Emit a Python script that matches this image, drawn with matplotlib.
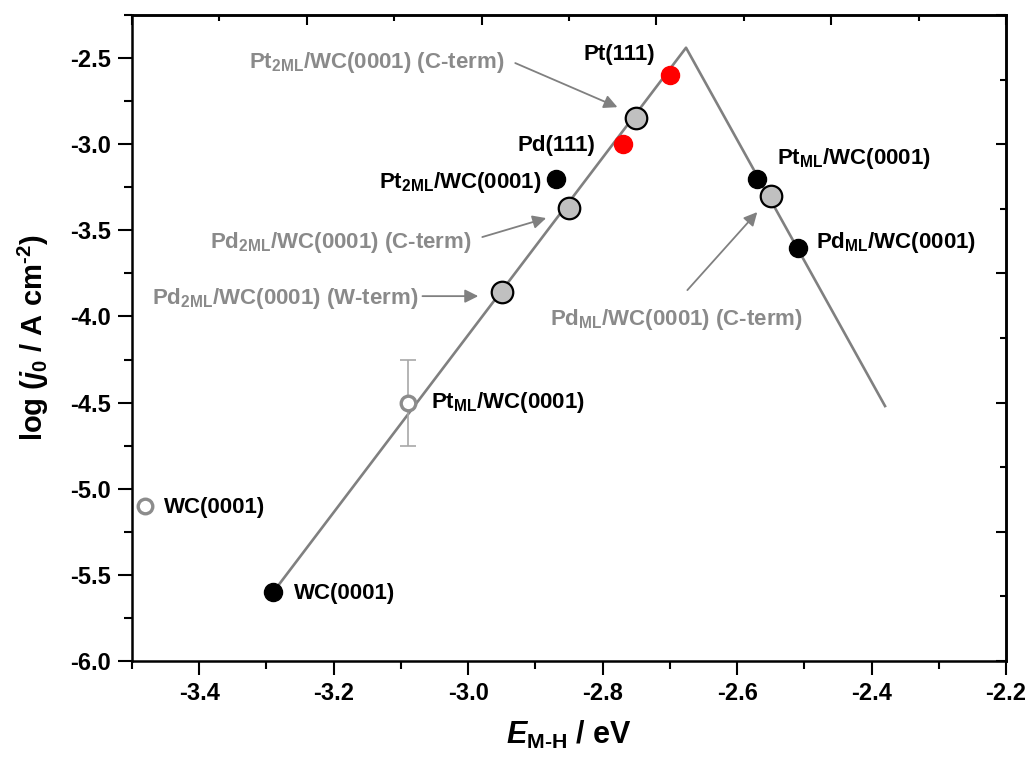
import matplotlib
matplotlib.use("Agg")
import matplotlib.pyplot as plt
import numpy as np
from matplotlib.ticker import MultipleLocator, NullFormatter, FixedLocator

plt.rcParams["font.family"] = ["Liberation Sans", "DejaVu Sans"]
plt.rcParams["font.weight"] = "bold"
plt.rcParams["axes.labelweight"] = "bold"
plt.rcParams["mathtext.fontset"] = "custom"
plt.rcParams["mathtext.rm"] = "Liberation Sans:bold"
plt.rcParams["mathtext.it"] = "Liberation Sans:italic:bold"
plt.rcParams["mathtext.bf"] = "Liberation Sans:bold"
plt.rcParams["mathtext.default"] = "rm"

# volcano fit: rising branch, apex, falling branch
volcano_x = [-3.29, -2.676, -2.38]
volcano_y = [-5.6, -2.44, -4.52]

# pure metal references
ref_x = [-2.70, -2.77]
ref_y = [-2.6, -3.0]
ref_names = ["Pt(111)", "Pd(111)"]

# calculated overlayers (C- and W-terminated)
calc_x = [-2.75, -2.85, -2.95, -2.55]
calc_y = [-2.85, -3.37, -3.86, -3.30]
calc_names = [r"Pt$_{2ML}$/WC(0001) (C-term)",
              r"Pd$_{2ML}$/WC(0001) (C-term)",
              r"Pd$_{2ML}$/WC(0001) (W-term)",
              r"Pd$_{ML}$/WC(0001) (C-term)"]

# overlayers / substrate on the volcano
bulk_x = [-2.87, -2.57, -2.51, -3.29]
bulk_y = [-3.2, -3.2, -3.6, -5.6]
bulk_names = [r"Pt$_{2ML}$/WC(0001)", r"Pt$_{ML}$/WC(0001)",
              r"Pd$_{ML}$/WC(0001)", "WC(0001)"]

# measured points (open symbols)
meas_x = [-3.09, -3.48]
meas_y = [-4.5, -5.1]
meas_err = [0.25, 0.0]
meas_names = [r"Pt$_{ML}$/WC(0001)", "WC(0001)"]

fig = plt.figure(figsize=(10.29, 7.57), dpi=100)
ax = fig.add_axes([0.1283, 0.1268, 0.8494, 0.8534])

grey = "#808080"
ax.plot(volcano_x, volcano_y, color=grey, lw=1.9, zorder=1)

ax.errorbar(meas_x[0], meas_y[0], yerr=meas_err[0], fmt="none",
            ecolor="#a8a8a8", elinewidth=1.2, capsize=6, capthick=1.2, zorder=2)
ax.plot(meas_x, meas_y, "o", ms=10.5, mfc="white", mec="#8c8c8c", mew=2.4,
        ls="none", zorder=3)
ax.plot(bulk_x, bulk_y, "o", ms=13, color="black", ls="none", zorder=3)
ax.plot(ref_x, ref_y, "o", ms=13, color="red", ls="none", zorder=3)
ax.plot(calc_x, calc_y, "o", ms=15.5, mfc="#c0c0c0", mec="black", mew=1.6,
        ls="none", zorder=4)

fs = 16
# black labels
ax.text(-2.829, -2.512, ref_names[0], fontsize=fs, color="black")
ax.text(-2.927, -3.040, ref_names[1], fontsize=fs, color="black")
ax.text(-3.132, -3.255, bulk_names[0], fontsize=fs, color="black")
ax.text(-2.540, -3.115, bulk_names[1], fontsize=fs, color="black")
ax.text(-2.482, -3.603, bulk_names[2], fontsize=fs, color="black")
ax.text(-3.259, -5.640, bulk_names[3], fontsize=fs, color="black")
ax.text(-3.055, -4.532, meas_names[0], fontsize=fs, color="black")
ax.text(-3.452, -5.141, meas_names[1], fontsize=fs, color="black")

# grey labels with arrows
tgrey = "#8a8a8a"
ax.text(-3.326, -2.558, calc_names[0], fontsize=fs, color=tgrey)
ax.text(-3.384, -3.603, calc_names[1], fontsize=fs, color=tgrey)
ax.text(-3.470, -3.928, calc_names[2], fontsize=fs, color=tgrey)
ax.text(-2.879, -4.050, calc_names[3], fontsize=fs, color=tgrey)

arrows = [((-2.930, -2.529), (-2.778, -2.785)),
          ((-2.979, -3.539), (-2.884, -3.429)),
          ((-3.068, -3.882), (-2.985, -3.882)),
          ((-2.674, -3.847), (-2.570, -3.394))]
for start, end in arrows:
    ax.annotate("", xy=end, xytext=start,
                arrowprops=dict(arrowstyle="-|>", color=grey, lw=1.3,
                                mutation_scale=20, shrinkA=0, shrinkB=0))

ax.set_xlim(-3.5, -2.2)
ax.set_ylim(-6.0, -2.25)
ax.xaxis.set_major_locator(MultipleLocator(0.2))
ax.xaxis.set_minor_locator(MultipleLocator(0.1))
ax.yaxis.set_major_locator(MultipleLocator(0.5))
ax.yaxis.set_minor_locator(MultipleLocator(0.25))
ax.xaxis.set_major_formatter(plt.FuncFormatter(lambda v, p: f"{v:.1f}"))
ax.yaxis.set_major_formatter(plt.FuncFormatter(lambda v, p: f"{v:.1f}"))

for s in ax.spines.values():
    s.set_linewidth(1.8)
ax.tick_params(which="major", direction="out", length=10, width=1.5,
               labelsize=17, pad=5)
ax.tick_params(which="minor", direction="out", length=5.5, width=1.5)
ax.tick_params(top=False, right=False, which="both")

# linked top/right axes with their own tick spacing
top = ax.secondary_xaxis("top")
top.xaxis.set_major_locator(FixedLocator(np.arange(-3.5, -2.19, 0.26)))
top.xaxis.set_minor_locator(FixedLocator(np.arange(-3.37, -2.2, 0.26)))
top.xaxis.set_major_formatter(NullFormatter())
top.tick_params(which="major", direction="in", length=7, width=1.5)
top.tick_params(which="minor", direction="in", length=4, width=1.5)
top.spines["top"].set_linewidth(1.8)

right = ax.secondary_yaxis("right")
right.yaxis.set_major_locator(FixedLocator(np.arange(-6.0, -2.24, 0.75)))
right.yaxis.set_minor_locator(FixedLocator(np.arange(-5.625, -2.25, 0.75)))
right.yaxis.set_major_formatter(NullFormatter())
right.tick_params(which="major", direction="in", length=7, width=1.5)
right.tick_params(which="minor", direction="in", length=4, width=1.5)
right.spines["right"].set_linewidth(1.8)

ax.set_xlabel(r"$\mathit{E}_{\text{M-H}}$ / eV", fontsize=22,
              fontweight="bold", labelpad=10)
ax.set_ylabel(r"log ($\mathit{j}_{0}$ / A cm$^{\text{-2}}$)", fontsize=21,
              fontweight="bold", labelpad=14)

fig.savefig("out.png", dpi=100)
